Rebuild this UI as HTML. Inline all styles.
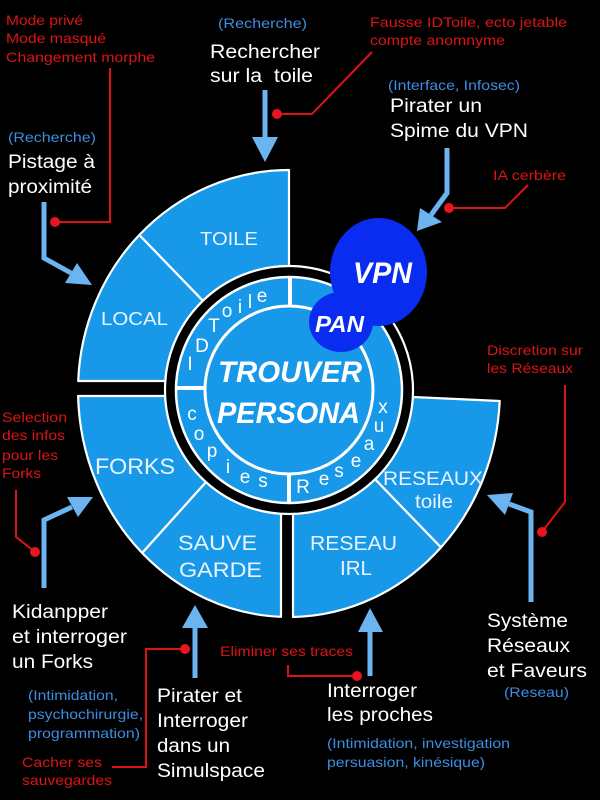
<!DOCTYPE html>
<html><head><meta charset="utf-8">
<style>
html,body{margin:0;padding:0;background:#000;}
svg{display:block;}
text{font-family:"Liberation Sans",Arial,sans-serif;}
</style></head>
<body>
<svg width="600" height="800" viewBox="0 0 600 800" xmlns="http://www.w3.org/2000/svg">
<rect width="600" height="800" fill="#000"/>

<!-- outer segments -->
<g fill="#1898e8" stroke="#fff" stroke-width="2.2" stroke-linejoin="round">
<path d="M289 170 A211 220 0 0 0 139.3 235 L202.9 300.8 A124 124 0 0 1 289 266 Z"/>
<path d="M139.3 235 A211 220 0 0 0 78.2 381 L165.3 381 A124 124 0 0 1 202.9 300.8 Z"/>
<path d="M78.1 396 A211 227 0 0 0 142.2 553 L206 482.1 A124 124 0 0 1 165.1 396 Z"/>
<path d="M142.2 553 A211 227 0 0 0 281 616.8 L281 513.7 A124 124 0 0 1 206 482.1 Z"/>
<path d="M293 617 A211 227 0 0 0 441 547.4 L375.1 479.2 A124 124 0 0 1 293 513.9 Z"/>
<path d="M441 547.4 A211 227 0 0 0 499.7 401 L412.8 397 A124 124 0 0 1 375.1 479.2 Z"/>
</g>

<!-- black band + middle ring + disc -->
<circle cx="289" cy="390" r="124" fill="#000" stroke="#fff" stroke-width="2.2"/>
<circle cx="289" cy="390" r="113" fill="#1898e8" stroke="#fff" stroke-width="2.5"/>
<rect x="288" y="277" width="4" height="29" fill="#fff"/>
<rect x="176" y="386" width="31" height="4" fill="#fff"/>
<rect x="287" y="474" width="4" height="29" fill="#fff"/>
<circle cx="289" cy="390" r="84" fill="#1898e8" stroke="#fff" stroke-width="3"/>

<!-- ring letters (upright) -->
<g font-size="19" fill="#fff" text-anchor="middle">
<text x="190" y="370">I</text>
<text x="202" y="352">D</text>
<text x="214" y="332">T</text>
<text x="227" y="317">o</text>
<text x="240" y="313">i</text>
<text x="250" y="308">l</text>
<text x="262" y="302">e</text>

<text x="192" y="420">c</text>
<text x="199" y="440">o</text>
<text x="212" y="457">p</text>
<text x="228" y="473">i</text>
<text x="245" y="483">e</text>
<text x="263" y="487">s</text>

<text x="303" y="493">R</text>
<text x="324" y="485">e</text>
<text x="339" y="477">s</text>
<text x="356" y="467">e</text>
<text x="369" y="450">a</text>
<text x="379" y="432">u</text>
<text x="383" y="413">x</text>
</g>

<!-- center title -->
<g fill="#fff" font-weight="bold" font-style="italic" font-size="30">
<text x="218" y="382" textLength="144" lengthAdjust="spacingAndGlyphs">TROUVER</text>
<text x="217" y="423" textLength="143" lengthAdjust="spacingAndGlyphs">PERSONA</text>
</g>

<!-- VPN / PAN -->
<ellipse cx="378.5" cy="272" rx="48.5" ry="54" fill="#0a2cf0"/>
<ellipse cx="341" cy="322" rx="32" ry="30" fill="#0a2cf0"/>
<g fill="#fff" font-weight="bold" font-style="italic">
<text x="353" y="283" font-size="30" textLength="59" lengthAdjust="spacingAndGlyphs">VPN</text>
<text x="315" y="332" font-size="23" textLength="49" lengthAdjust="spacingAndGlyphs">PAN</text>
</g>

<!-- segment labels -->
<g fill="#eaf4ff">
<text x="200" y="245" font-size="18" textLength="58" lengthAdjust="spacingAndGlyphs">TOILE</text>
<text x="101" y="325" font-size="18" textLength="67" lengthAdjust="spacingAndGlyphs">LOCAL</text>
<text x="95" y="474" font-size="22" textLength="80" lengthAdjust="spacingAndGlyphs">FORKS</text>
<text x="178" y="550" font-size="21" textLength="79" lengthAdjust="spacingAndGlyphs">SAUVE</text>
<text x="179" y="577" font-size="21" textLength="83" lengthAdjust="spacingAndGlyphs">GARDE</text>
<text x="310" y="550" font-size="20" textLength="87" lengthAdjust="spacingAndGlyphs">RESEAU</text>
<text x="340" y="575" font-size="20" textLength="32" lengthAdjust="spacingAndGlyphs">IRL</text>
<text x="383" y="485" font-size="19" textLength="100" lengthAdjust="spacingAndGlyphs">RESEAUX</text>
<text x="415" y="508" font-size="19" textLength="38" lengthAdjust="spacingAndGlyphs">toile</text>
</g>

<!-- red connectors -->
<g fill="none" stroke="#dc1414" stroke-width="2">
<polyline points="110,68 110,222 55,222"/>
<polyline points="372,52 312,114 277,114"/>
<polyline points="528,185 505,208 449,208"/>
<polyline points="565,385 565,502 542,532"/>
<polyline points="16,490 16,537 35,552"/>
<polyline points="112,767 146,767 146,649 185,649"/>
<polyline points="288,665 288,676 357,676"/>
</g>
<g fill="#e8141e">
<circle cx="55" cy="222" r="5"/>
<circle cx="277" cy="114" r="5"/>
<circle cx="449" cy="208" r="5"/>
<circle cx="542" cy="532" r="5"/>
<circle cx="35" cy="552" r="5"/>
<circle cx="185" cy="649" r="5"/>
<circle cx="357" cy="676" r="5"/>
</g>

<!-- blue arrows -->
<g fill="none" stroke="#6cb4f0" stroke-width="5" stroke-linejoin="miter">
<polyline points="265,90 265,139"/>
<polyline points="44,202 44,258 71,273"/>
<polyline points="447,148 447,193 431,215"/>
<polyline points="44,588 44,520 72,507"/>
<polyline points="195,678 195,626"/>
<polyline points="370,676 370,630"/>
<polyline points="531,602 531,512 509,504"/>
</g>
<g fill="#6cb4f0">
<polygon points="252,137 278,137 265,162"/>
<polygon points="65,283 77,263 92,285"/>
<polygon points="420,208 442,222 417,231"/>
<polygon points="67,497 78,517 93,497"/>
<polygon points="182,628 208,628 195,605"/>
<polygon points="358,632 383,632 370,608"/>
<polygon points="513,493 505,515 487,495"/>
</g>

<!-- white labels -->
<g fill="#fff" font-size="19">
<text x="210" y="58" textLength="110" lengthAdjust="spacingAndGlyphs">Rechercher</text>
<text x="210" y="82" textLength="103" lengthAdjust="spacingAndGlyphs" style="white-space:pre">sur la  toile</text>
<text x="8" y="168" textLength="87" lengthAdjust="spacingAndGlyphs">Pistage à</text>
<text x="8" y="193" textLength="84" lengthAdjust="spacingAndGlyphs">proximité</text>
<text x="390" y="112" textLength="92" lengthAdjust="spacingAndGlyphs">Pirater un</text>
<text x="390" y="137" textLength="138" lengthAdjust="spacingAndGlyphs">Spime du VPN</text>
<text x="12" y="618" textLength="96" lengthAdjust="spacingAndGlyphs">Kidanpper</text>
<text x="12" y="643" textLength="115" lengthAdjust="spacingAndGlyphs">et interroger</text>
<text x="12" y="668" textLength="81" lengthAdjust="spacingAndGlyphs">un Forks</text>
<text x="157" y="702" textLength="85" lengthAdjust="spacingAndGlyphs">Pirater et</text>
<text x="157" y="727" textLength="91" lengthAdjust="spacingAndGlyphs">Interroger</text>
<text x="157" y="752" textLength="73" lengthAdjust="spacingAndGlyphs">dans un</text>
<text x="157" y="777" textLength="108" lengthAdjust="spacingAndGlyphs">Simulspace</text>
<text x="327" y="697" textLength="90" lengthAdjust="spacingAndGlyphs">Interroger</text>
<text x="327" y="721" textLength="106" lengthAdjust="spacingAndGlyphs">les proches</text>
<text x="487" y="627" textLength="81" lengthAdjust="spacingAndGlyphs">Système</text>
<text x="487" y="652" textLength="83" lengthAdjust="spacingAndGlyphs">Réseaux</text>
<text x="487" y="677" textLength="100" lengthAdjust="spacingAndGlyphs">et Faveurs</text>
</g>

<!-- blue labels -->
<g fill="#3d8ee0" font-size="14">
<text x="218" y="28" textLength="89" lengthAdjust="spacingAndGlyphs">(Recherche)</text>
<text x="8" y="142" textLength="88" lengthAdjust="spacingAndGlyphs">(Recherche)</text>
<text x="388" y="90" textLength="132" lengthAdjust="spacingAndGlyphs">(Interface, Infosec)</text>
<text x="28" y="700" textLength="90" lengthAdjust="spacingAndGlyphs">(Intimidation,</text>
<text x="28" y="719" textLength="115" lengthAdjust="spacingAndGlyphs">psychochirurgie,</text>
<text x="28" y="738" textLength="112" lengthAdjust="spacingAndGlyphs">programmation)</text>
<text x="327" y="748" textLength="183" lengthAdjust="spacingAndGlyphs">(Intimidation, investigation</text>
<text x="327" y="767" textLength="158" lengthAdjust="spacingAndGlyphs">persuasion, kinésique)</text>
<text x="504" y="697" textLength="65" lengthAdjust="spacingAndGlyphs">(Reseau)</text>
</g>

<!-- red labels -->
<g fill="#dc1414" font-size="14">
<text x="6" y="25" textLength="77" lengthAdjust="spacingAndGlyphs">Mode privé</text>
<text x="6" y="43" textLength="100" lengthAdjust="spacingAndGlyphs">Mode masqué</text>
<text x="6" y="62" textLength="149" lengthAdjust="spacingAndGlyphs">Changement morphe</text>
<text x="370" y="27" textLength="197" lengthAdjust="spacingAndGlyphs">Fausse IDToile, ecto jetable</text>
<text x="370" y="45" textLength="135" lengthAdjust="spacingAndGlyphs">compte anomnyme</text>
<text x="493" y="180" textLength="73" lengthAdjust="spacingAndGlyphs">IA cerbère</text>
<text x="487" y="355" textLength="96" lengthAdjust="spacingAndGlyphs">Discretion sur</text>
<text x="487" y="373" textLength="86" lengthAdjust="spacingAndGlyphs">les Réseaux</text>
<text x="2" y="422" textLength="65" lengthAdjust="spacingAndGlyphs">Selection</text>
<text x="2" y="440" textLength="63" lengthAdjust="spacingAndGlyphs">des infos</text>
<text x="2" y="460" textLength="56" lengthAdjust="spacingAndGlyphs">pour les</text>
<text x="2" y="478" textLength="39" lengthAdjust="spacingAndGlyphs">Forks</text>
<text x="22" y="767" textLength="80" lengthAdjust="spacingAndGlyphs">Cacher ses</text>
<text x="22" y="785" textLength="90" lengthAdjust="spacingAndGlyphs">sauvegardes</text>
<text x="220" y="656" textLength="133" lengthAdjust="spacingAndGlyphs">Eliminer ses traces</text>
</g>
</svg>
</body>
</html>
